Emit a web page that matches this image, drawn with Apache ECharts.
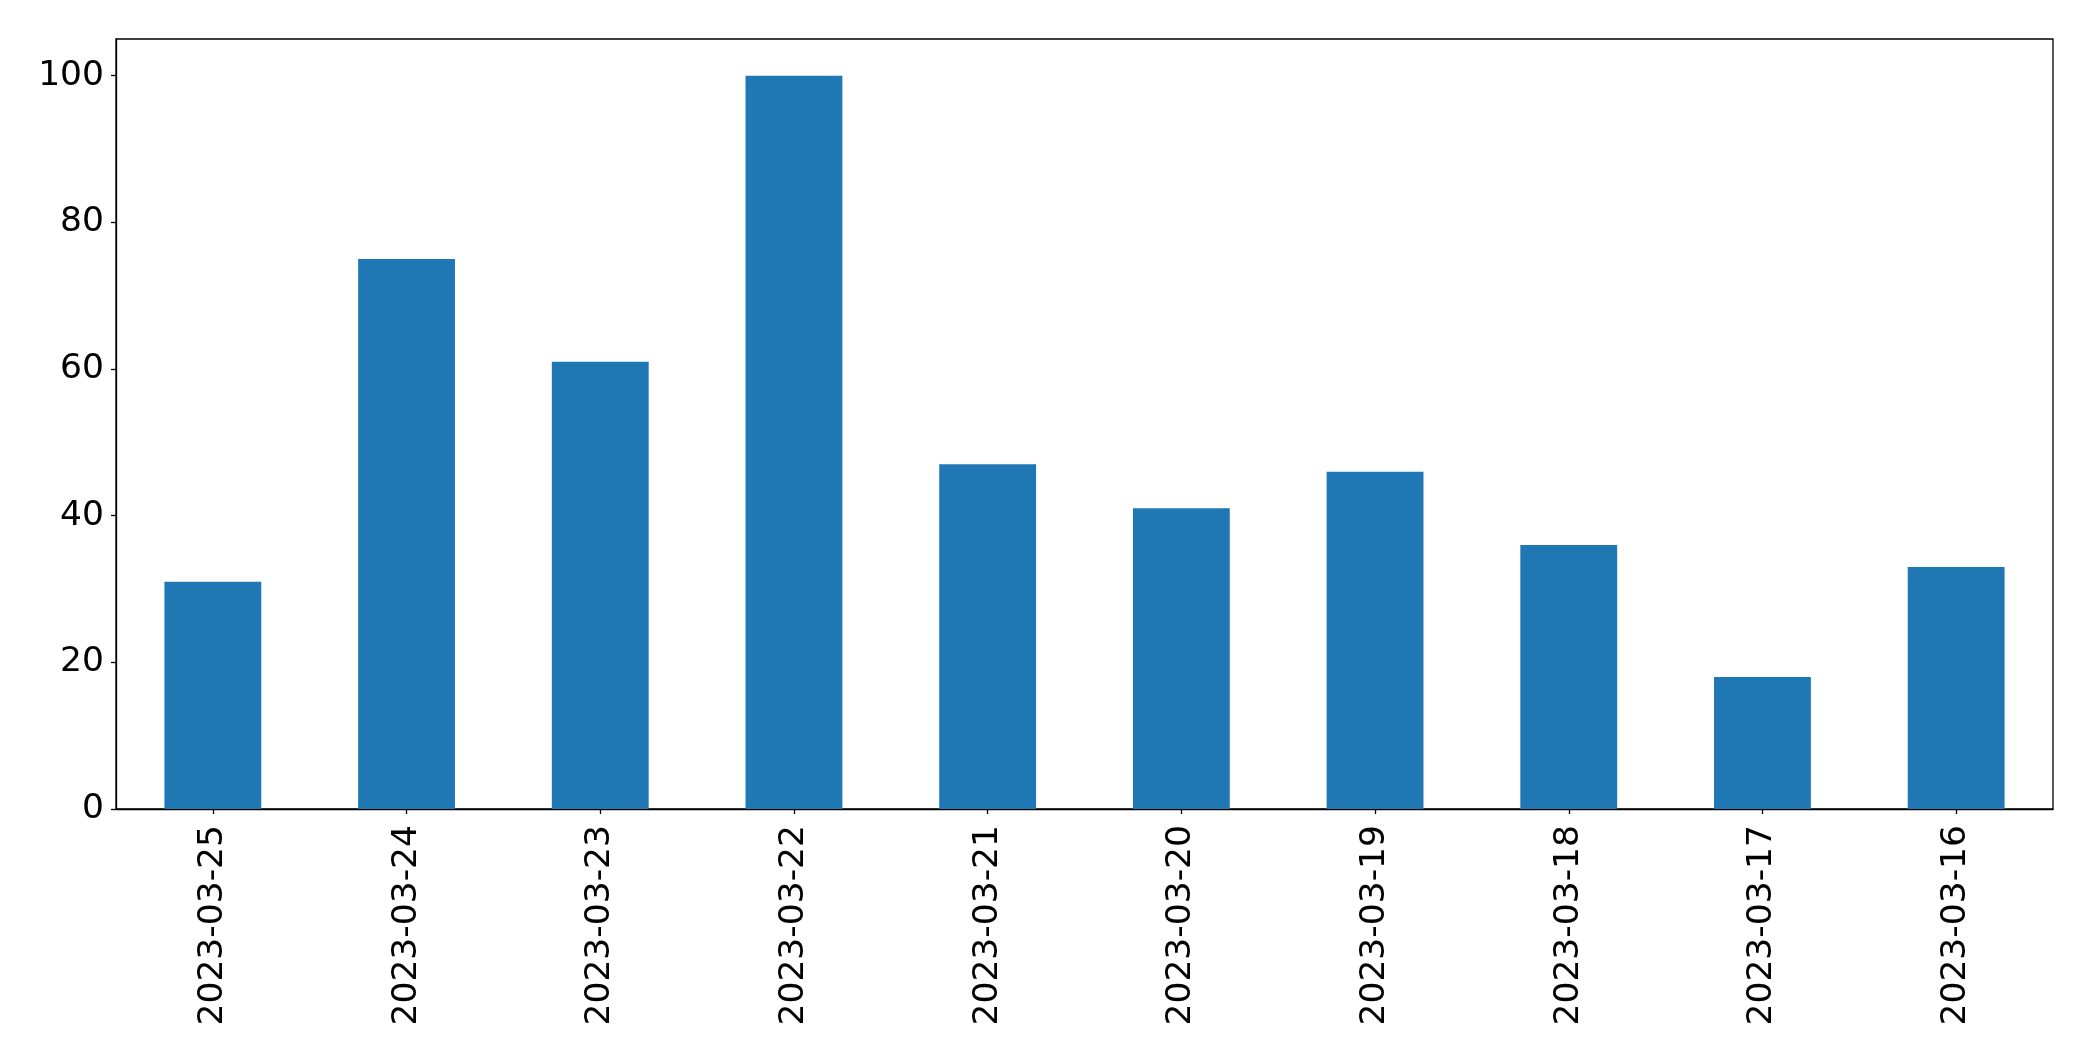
<!DOCTYPE html>
<html>
<head>
<meta charset="utf-8">
<script src="https://cdn.jsdelivr.net/npm/echarts@6/dist/echarts.min.js"></script>
<style>
html,body{margin:0;padding:0;background:#fff;}
#chart{width:2093px;height:1061px;}
</style>
</head>
<body>
<div id="chart"></div>
<script>
const categories = ["2023-03-25","2023-03-24","2023-03-23","2023-03-22","2023-03-21","2023-03-20","2023-03-19","2023-03-18","2023-03-17","2023-03-16"];
const values = [31, 75, 61, 100, 47, 41, 46, 36, 18, 33];
const yTicks = [0, 20, 40, 60, 80, 100];

const chart = echarts.init(document.getElementById('chart'), null, {renderer: 'canvas'});
const font = 'DejaVu Sans';
chart.setOption({
  animation: false,
  backgroundColor: '#ffffff',
  grid: {left: 116, top: 39, right: 40, bottom: 252, show: true, borderColor: '#000', borderWidth: 1.3, backgroundColor: 'transparent'},
  xAxis: {
    type: 'category',
    data: categories,
    boundaryGap: true,
    axisLine: {show: true, lineStyle: {color: '#000', width: 1.3}},
    axisTick: {show: true, alignWithLabel: true, length: 5, lineStyle: {color: '#000', width: 1.3}},
    axisLabel: {rotate: 90, margin: 16, color: '#000', fontSize: 34.5, fontFamily: font, interval: 0},
    splitLine: {show: false}
  },
  yAxis: {
    type: 'value',
    min: 0,
    max: 105,
    interval: 20,
    axisLine: {show: true, lineStyle: {color: '#000', width: 1.3}},
    axisTick: {show: true, length: 5, customValues: yTicks, lineStyle: {color: '#000', width: 1.3}},
    axisLabel: {margin: 12, color: '#000', fontSize: 34.5, fontFamily: font, customValues: yTicks,
      padding: [5, 0, 0, 0]},
    splitLine: {show: false}
  },
  series: [{
    type: 'bar',
    data: values,
    barWidth: '50%',
    itemStyle: {color: '#1f77b4'}
  }]
});
</script>
</body>
</html>
